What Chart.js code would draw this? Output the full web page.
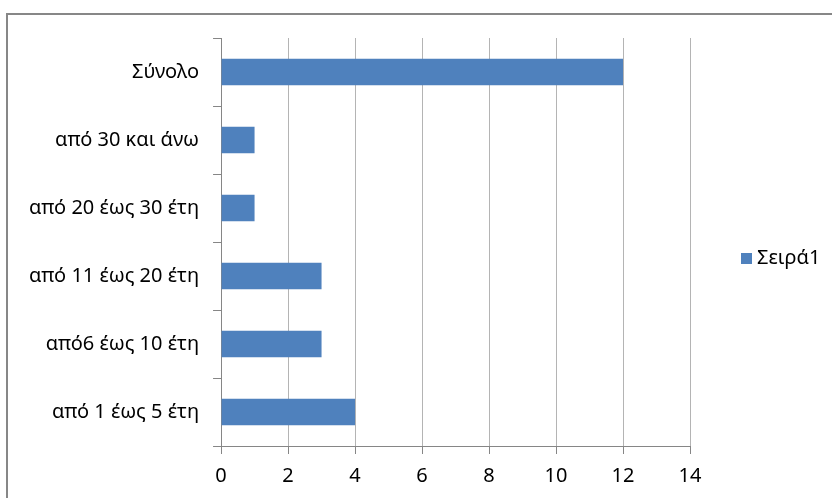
<!DOCTYPE html>
<html>
<head>
<meta charset="utf-8">
<script src="https://cdn.jsdelivr.net/npm/chart.js@4/dist/chart.umd.min.js"></script>
<style>
  body { margin: 0; background: #fff; overflow: hidden; }
  #frame {
    position: absolute; left: 6px; top: 13px;
    width: 900px; height: 600px;
    border: 2px solid #878787;
  }
  #wrap { position: absolute; left: 0; top: 0; width: 832px; height: 498px; }
</style>
</head>
<body>
<div id="frame"></div>
<div id="wrap"><canvas id="cvs" width="832" height="498"></canvas></div>
<script>
//-------------------------------------------------------------------
// data
//-------------------------------------------------------------------
const categories = [
  'Σύνολο',
  'από 30 και άνω',
  'από 20 έως 30 έτη',
  'από 11 έως 20 έτη',
  'από6 έως 10 έτη',
  'από 1 έως 5 έτη'
];
const seriesName = 'Σειρά1';
const seriesValues = [12, 1, 1, 3, 3, 4];
const axisMin = 0;
const axisMax = 14;
const axisStep = 2;

//-------------------------------------------------------------------
// styling
//-------------------------------------------------------------------
const FONT = "'Noto Sans', sans-serif";
const FONT_SIZE = 20;
const BAR_COLOR = '#4f81bd';
const AXIS_COLOR = '#868686';
const GRID_COLOR = '#b4b4b4';

// legend sits on the right, off the plot area, with a small square key
const sideLegend = {
  id: 'sideLegend',
  afterDraw(chart) {
    const c = chart.ctx;
    const ds = chart.data.datasets[0];
    const keyX = 741, keyY = 253, keySize = 11;

    c.save();
    c.fillStyle = ds.backgroundColor;
    c.fillRect(keyX, keyY, keySize, keySize);
    c.fillStyle = '#000';
    c.font = FONT_SIZE + 'px ' + FONT;
    c.textAlign = 'left';
    c.textBaseline = 'middle';
    c.fillText(ds.label, keyX + keySize + 5, keyY + keySize / 2);
    c.restore();
  }
};

//-------------------------------------------------------------------
// chart
//-------------------------------------------------------------------
const ctx = document.getElementById('cvs').getContext('2d');

new Chart(ctx, {
  type: 'bar',
  data: {
    labels: categories,
    datasets: [{
      label: seriesName,
      data: seriesValues,
      backgroundColor: BAR_COLOR,
      borderWidth: 0,
      barPercentage: 0.39,
      categoryPercentage: 1.0
    }]
  },
  options: {
    indexAxis: 'y',
    responsive: false,
    animation: false,
    layout: {
      padding: { top: 38, left: 15, right: 142, bottom: 0 }
    },
    plugins: {
      title: { display: false },
      tooltip: { enabled: false },
      legend: { display: false }
    },
    scales: {
      x: {
        min: axisMin,
        max: axisMax,
        ticks: {
          stepSize: axisStep,
          color: '#000',
          padding: 10,
          font: { family: FONT, size: FONT_SIZE }
        },
        grid: {
          color: GRID_COLOR,
          tickColor: AXIS_COLOR,
          tickLength: 8,
          lineWidth: 1
        },
        border: { color: AXIS_COLOR, width: 1 }
      },
      y: {
        ticks: {
          color: '#000',
          padding: 14,
          font: { family: FONT, size: FONT_SIZE }
        },
        grid: {
          offset: true,
          drawOnChartArea: false,
          tickColor: AXIS_COLOR,
          tickLength: 8
        },
        border: { color: AXIS_COLOR, width: 1 }
      }
    }
  },
  plugins: [sideLegend]
});
</script>
</body>
</html>
